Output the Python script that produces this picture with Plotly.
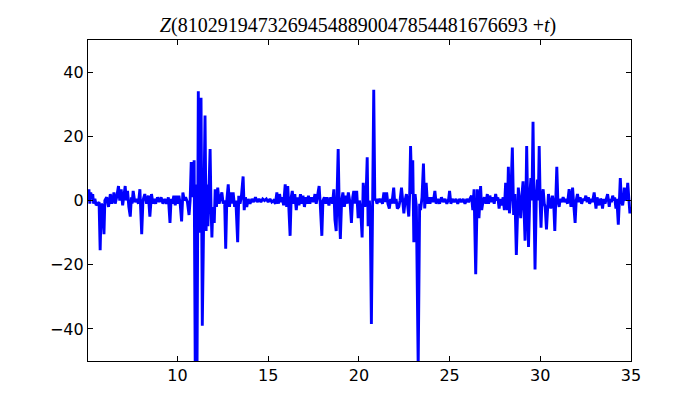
import plotly.graph_objects as go

title_text = "<i>Z</i>(81029194732694548890047854481676693 +<i>t</i>)"

t = [5.07, 5.12, 5.17, 5.22, 5.28, 5.33, 5.38, 5.45, 5.52, 5.6, 5.68, 5.74, 5.8, 5.86, 5.95, 6.0,
     6.1, 6.2, 6.3, 6.38, 6.45, 6.5, 6.57, 6.65, 6.75, 6.82, 6.9, 6.98, 7.05, 7.12, 7.18, 7.25,
     7.32, 7.4, 7.46, 7.5, 7.56, 7.65, 7.75, 7.85, 7.93, 8.03, 8.1, 8.2, 8.3, 8.4, 8.48, 8.57,
     8.65, 8.72, 8.8, 8.9, 9.0, 9.1, 9.2, 9.3, 9.4, 9.5, 9.59, 9.65, 9.72, 9.8, 9.88, 9.95,
     10.02, 10.08, 10.15, 10.23, 10.3, 10.38, 10.45, 10.55, 10.64, 10.7, 10.76, 10.84, 10.92,
     10.98, 11.03, 11.08, 11.15, 11.2, 11.25, 11.3, 11.37, 11.45, 11.52, 11.58, 11.63, 11.68,
     11.72, 11.8, 11.85, 11.9, 11.95, 12.03, 12.08, 12.15, 12.22, 12.3, 12.38, 12.45, 12.52,
     12.6, 12.66, 12.72, 12.8, 12.87, 12.93, 13.0, 13.07, 13.15, 13.22, 13.32, 13.38, 13.45,
     13.52, 13.62, 13.68, 13.75, 13.82, 13.9, 14.0, 14.1, 14.2, 14.3, 14.4, 14.5, 14.6, 14.7,
     14.8, 14.9, 15.0, 15.1, 15.2, 15.3, 15.4, 15.48, 15.57, 15.63, 15.7, 15.78, 15.85, 15.94,
     16.02, 16.08, 16.13, 16.21, 16.27, 16.33, 16.4, 16.47, 16.55, 16.62, 16.7, 16.78, 16.85,
     16.92, 17.0, 17.08, 17.15, 17.22, 17.3, 17.4, 17.5, 17.58, 17.65, 17.72, 17.81, 17.87,
     17.96, 18.02, 18.1, 18.18, 18.25, 18.35, 18.45, 18.55, 18.62, 18.68, 18.75, 18.8, 18.86,
     18.92, 18.98, 19.05, 19.12, 19.2, 19.28, 19.35, 19.42, 19.52, 19.59, 19.66, 19.72, 19.8,
     19.88, 19.96, 20.03, 20.1, 20.18, 20.24, 20.33, 20.4, 20.46, 20.51, 20.58, 20.63, 20.69,
     20.76, 20.82, 20.88, 20.93, 21.0, 21.08, 21.15, 21.22, 21.3, 21.38, 21.45, 21.53, 21.6,
     21.68, 21.75, 21.82, 21.92, 21.98, 22.05, 22.12, 22.2, 22.27, 22.35, 22.42, 22.48, 22.55,
     22.62, 22.68, 22.75, 22.8, 22.85, 22.92, 22.97, 23.03, 23.1, 23.17, 23.27, 23.35, 23.4,
     23.48, 23.56, 23.63, 23.71, 23.78, 23.85, 23.92, 24.0, 24.1, 24.19, 24.26, 24.35, 24.45,
     24.55, 24.65, 24.75, 24.85, 24.95, 25.0, 25.07, 25.15, 25.25, 25.35, 25.45, 25.55, 25.65,
     25.75, 25.85, 25.95, 26.05, 26.12, 26.21, 26.28, 26.35, 26.44, 26.53, 26.62, 26.71, 26.77,
     26.85, 26.92, 27.0, 27.08, 27.15, 27.22, 27.3, 27.38, 27.46, 27.54, 27.6, 27.66, 27.73,
     27.8, 27.88, 27.95, 28.02, 28.09, 28.15, 28.19, 28.24, 28.3, 28.38, 28.46, 28.53, 28.6,
     28.68, 28.74, 28.79, 28.86, 28.92, 28.98, 29.05, 29.1, 29.16, 29.21, 29.25, 29.3, 29.35,
     29.42, 29.48, 29.54, 29.6, 29.65, 29.71, 29.78, 29.84, 29.89, 29.94, 30.0, 30.04, 30.1,
     30.16, 30.22, 30.27, 30.34, 30.4, 30.45, 30.52, 30.58, 30.67, 30.74, 30.8, 30.86, 30.91,
     30.97, 31.04, 31.1, 31.18, 31.26, 31.34, 31.42, 31.5, 31.59, 31.65, 31.69, 31.74, 31.78,
     31.84, 31.87, 31.92, 31.98, 32.05, 32.12, 32.2, 32.28, 32.36, 32.44, 32.51, 32.58, 32.65,
     32.72, 32.8, 32.88, 32.97, 33.02, 33.07, 33.13, 33.19, 33.25, 33.32, 33.38, 33.43, 33.5,
     33.57, 33.64, 33.71, 33.76, 33.8, 33.86, 33.92, 33.99, 34.05, 34.1, 34.17, 34.22, 34.3,
     34.36, 34.41, 34.47, 34.54, 34.6, 34.63, 34.7, 34.76, 34.82, 34.88, 34.94, 35.0]

z = [0, 3.5, -1, 2.5, 1, 2, -1, 0.5, -1.5, -1, -0.5, -15.5, -1, -1.5, -10.5, 0,
     1, -2, 2, -1, 0.5, 2.5, -1, 1, 4.5, 0, 3.5, -1.5, 2, 4.5, 0, 3,
     -2, -5, 1, -1, 3, -0.5, 0.5, -1, 3.5, -10.5, 0, 2, -1, 1.5, -5, 2,
     -1, 0.5, -1, 1, -0.5, 1, -1, 0.5, -1, 1, -7, 0.5, -1, 1.5, -1.5, 1.5,
     -1, 1.5, -1, -6.5, 2.5, 0, 1, -0.5, -4.5, 0, 12, 1, 12.5,
     -52, 5, -52, 34, -10, 5, 32, -39, 0, 26.5, -9.5, 5, -8,
     4, 16, -2, -11.5, -2, -7, 3.5, -2, 4, -1, 1, 2.5, -1,
     0, -15, 0, 5, -2, 2.5, -1, 2.5, -2, 0, -13, 1.5, -1,
     1, 7.5, -3, 1, -2, 0.5, -1, 0.5, -0.5, 1, -0.5, 0.5, -0.5, 0.5,
     0, 0.5, -0.5, 0.5, -0.5, 0, -1, 2.5, -1, 2, -0.5, 1, -1.5, 5,
     -2, 4.5, -1, -11, 1, 3, -1, 2, -3, 1, -1.5, 2, -1,
     1.5, -2, 1, -1, 1.5, -1, 1, -0.5, 2, -1, 1, 4.5, -1,
     -11, 0, 1, -1, 1, -1.5, 1, -1, 3.5, -6, -9.5, 2, 16,
     -3, -12, 0, 2.5, -2, 1.5, -1, 2.5, -1, -7, 1, 3, -1,
     3, -5.5, 0, -3, -11.5, 5.5, -2, 2, 13.5, -8, 0, -5, -38.5,
     0, 34.5, 0, 0.5, -1, 0.5, -0.5, 0.5, -1, 2.5, -0.5, 2.5, -1,
     -2.5, 0.5, -1, 4, -1, 0.5, -2.5, -2, 0, 4, -1, -4, 0,
     2, -1, -5, 2, 17, 2, 12.5, -13, 2, -2, -52, -1, -3,
     1, 11.5, -2.5, 5.5, -1, 1, -1, 1, -0.5, 3, -1, 0.5, -1,
     1, -0.5, 0.5, -1, 0.5, 3, -1, 0.5, -0.5, 0.5, -1, 0.5, -0.5,
     0.5, -1, 0.5, -0.5, 0.5, 1.5, -3, 3.5, -23, 3.5, -5.5, 4.5, -3,
     0, 1, -1, 2, -1, 1.5, -0.5, 1, -1, 2, 0, 1, -2.5,
     0.5, -1.5, 1, -3, 5.5, -1, -3, 10.5, -4, 2, 16.5, -4.5, 2,
     -17, 0, 4, -1, -5.5, 1, 6, -2, -12.5, 1, 17, 0, -14.5,
     1, 7, 0, 24.5, 0, -21.5, 1, 6.5, 0, 17, -2, -8.5, 1,
     3.5, -1, -2, -9, 0, 2, -0.5, -2.5, 1.5, -1, -9.5, 0, 10.5,
     0, -2, 0.5, -0.5, 1, -0.5, 0.5, -1, 3.5, 0, -2, 1, 4,
     -1, -3.5, -7, 0, 2, -0.5, 1, -1, 0.5, 0, 1.5, -0.5, 1,
     -1, 0.5, -0.5, 2.5, 0, -2.5, 1, 0, -1.5, 0.5, 0, -2.5, 0.5,
     -1, 0.5, 2, 0, -2, 0.5, -0.5, 1.5, 0, 1, -2.5, 0.5, -7.5,
     0, 7, 0, -1.5, 1, 4, 0, 1, 5.5, 1, -4, -2]

x_ticks = [10, 15, 20, 25, 30, 35]
y_ticks = [-40, -20, 0, 20, 40]

fig = go.Figure()
fig.add_trace(go.Scatter(x=t, y=z, mode="lines",
                         line=dict(color="#0000ff", width=2.9),
                         showlegend=False, hoverinfo="skip"))

axis_common = dict(showgrid=False, zeroline=False, showline=True, linecolor="black",
                   linewidth=1.2, mirror="allticks", ticks="inside", ticklen=5,
                   tickcolor="black", tickwidth=1,
                   tickfont=dict(family="DejaVu Sans", size=16, color="black"))

fig.update_xaxes(range=[5.07, 35], tickvals=x_ticks, **axis_common)
fig.update_yaxes(range=[-50, 50], tickvals=y_ticks, **axis_common)

fig.update_layout(
    width=700, height=400,
    margin=dict(l=80, r=77, t=32, b=47),
    paper_bgcolor="white", plot_bgcolor="white",
    title=dict(text=title_text, x=0.5, xanchor="center", y=0.9575, yanchor="middle",
               yref="container",
               font=dict(family="Liberation Serif", size=20, color="black")),
)

fig.write_html("out.html")
